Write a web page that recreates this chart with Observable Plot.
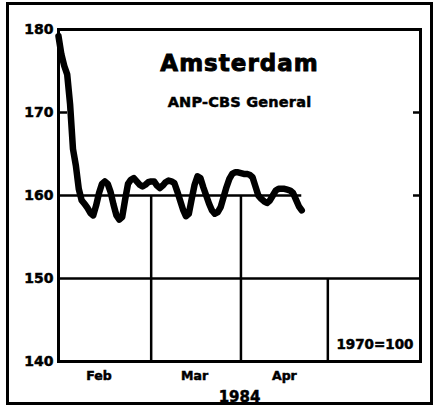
<!DOCTYPE html>
<html>
<head>
<meta charset="utf-8">
<script src="https://cdn.jsdelivr.net/npm/d3@7"></script>
<script src="https://cdn.jsdelivr.net/npm/@observablehq/plot@0.6"></script>
<style>
html, body { margin: 0; padding: 0; background: #fff; }
#wrap { position: relative; width: 438px; height: 406px; }
#border { position: absolute; left: 6px; top: 2px; width: 421px; height: 397px; border: 3px solid #000; pointer-events: none; }
</style>
</head>
<body>
<div id="wrap"></div>
<script>
// ---- data ----
const dates = [
  "1984-01-29","1984-01-30","1984-01-31","1984-02-01","1984-02-02","1984-02-03","1984-02-04","1984-02-05",
  "1984-02-06","1984-02-07","1984-02-08","1984-02-09","1984-02-10","1984-02-11","1984-02-12","1984-02-13",
  "1984-02-14","1984-02-15","1984-02-16","1984-02-17","1984-02-18","1984-02-19","1984-02-20","1984-02-21",
  "1984-02-22","1984-02-23","1984-02-24","1984-02-25","1984-02-26","1984-02-27","1984-02-28","1984-02-29",
  "1984-03-01","1984-03-02","1984-03-03","1984-03-04","1984-03-05","1984-03-06","1984-03-07","1984-03-08",
  "1984-03-09","1984-03-10","1984-03-11","1984-03-12","1984-03-13","1984-03-14","1984-03-15","1984-03-16",
  "1984-03-17","1984-03-18","1984-03-19","1984-03-20","1984-03-21","1984-03-22","1984-03-23","1984-03-24",
  "1984-03-25","1984-03-26","1984-03-27","1984-03-28","1984-03-29","1984-03-30","1984-03-31","1984-04-01",
  "1984-04-02","1984-04-03","1984-04-04","1984-04-05","1984-04-06","1984-04-07","1984-04-08","1984-04-09",
  "1984-04-10","1984-04-11","1984-04-12","1984-04-13","1984-04-14","1984-04-15","1984-04-16","1984-04-17",
  "1984-04-18","1984-04-19","1984-04-20","1984-04-21","1984-04-22"
];
const values = [
  179.2,177.0,175.6,174.6,171.0,165.6,163.6,160.8,
  159.4,159.0,158.5,157.9,157.6,158.8,160.3,161.4,
  161.7,161.4,160.4,158.9,157.6,157.1,157.4,159.5,
  161.4,161.9,162.1,161.7,161.3,161.1,161.3,161.6,
  161.7,161.7,161.2,160.9,161.2,161.6,161.8,161.7,
  161.5,160.5,159.4,158.3,157.5,157.8,159.6,161.3,
  162.3,162.1,161.0,160.0,159.0,158.2,157.8,158.0,
  158.6,159.8,161.0,162.0,162.6,162.8,162.8,162.7,
  162.6,162.6,162.5,162.2,161.1,160.0,159.6,159.3,
  159.1,159.4,160.0,160.6,160.8,160.8,160.8,160.7,
  160.6,160.3,159.5,158.7,158.2
];
const xDomain = ["1984-01-29", "1984-06-02"];
const yDomain = [140, 180];
const yTicks = [140, 150, 160, 170, 180];
const monthLabels = ["Feb", "Mar", "Apr"];
const monthLabelDates = ["1984-02-12", "1984-03-16", "1984-04-16"];
const monthBoundaries = ["1984-03-01", "1984-04-01", "1984-05-01"];
const boundaryTops = [160, 160, 150];
const fullGridLevels = [150];
const partialGridLevel = [160];
const leftTickLevels = [170];
const rightTickLevels = [160, 170];
const yearLabel = "1984";
const titleText = "Amsterdam";
const subtitleText = "ANP-CBS General";
const baseNote = "1970=100";

// ---- build ----
const series = dates.map((d, i) => ({date: new Date(d), value: values[i]}));
const firstDate = series[0].date;
const lastDate = series[series.length - 1].date;
const vGrid = monthBoundaries.map((d, i) => ({x: new Date(d), top: boundaryTops[i]}));
const hPartial = partialGridLevel.map(y => ({y, x1: firstDate, x2: lastDate}));
const labelMap = new Map(monthLabelDates.map((d, i) => [new Date(d).getTime(), monthLabels[i]]));

const chart = Plot.plot({
  width: 438,
  height: 406,
  marginLeft: 58,
  marginRight: 18,
  marginTop: 29,
  marginBottom: 45,
  style: {fontFamily: "DejaVu Sans", background: "#fff", color: "#000"},
  x: {type: "utc", domain: xDomain.map(d => new Date(d))},
  y: {domain: yDomain},
  marks: [
    Plot.ruleY(fullGridLevels, {stroke: "#000", strokeWidth: 2.5}),
    Plot.ruleY(hPartial, {y: "y", x1: "x1", x2: "x2", stroke: "#000", strokeWidth: 2.5}),
    Plot.ruleX(vGrid, {x: "x", y1: yDomain[0], y2: "top", stroke: "#000", strokeWidth: 2.5}),
    Plot.tickY(leftTickLevels, {insetRight: 353, stroke: "#000", strokeWidth: 2.5}),
    Plot.tickY(rightTickLevels, {insetLeft: 355, stroke: "#000", strokeWidth: 2.5}),
    Plot.line(series, {x: "date", y: "value", stroke: "#000", strokeWidth: 6.5, strokeLinejoin: "round", strokeLinecap: "round"}),
    Plot.frame({stroke: "#000", strokeWidth: 3}),
    Plot.axisY({ticks: yTicks, tickSize: 0, tickPadding: 5, fontSize: 14, fontWeight: "bold", label: null, tickFormat: d => String(d)}),
    Plot.axisX({ticks: monthLabelDates.map(d => new Date(d)), tickSize: 0, tickPadding: 10, fontSize: 12.5, fontWeight: "bold", label: null,
      tickFormat: d => labelMap.get(d.getTime()) ?? ""}),
    Plot.text([yearLabel], {frameAnchor: "bottom", lineAnchor: "bottom", dy: 40, fontSize: 15, fontWeight: "bold"}),
    Plot.text([titleText], {frameAnchor: "top", lineAnchor: "bottom", dy: 41, fontSize: 23, fontWeight: "bold"}),
    Plot.text([subtitleText], {frameAnchor: "top", lineAnchor: "bottom", dy: 77.5, fontSize: 14.5, fontWeight: "bold"}),
    Plot.text([baseNote], {frameAnchor: "bottom-right", textAnchor: "end", lineAnchor: "middle", dx: -7, dy: -17, fontSize: 13.5, fontWeight: "bold"})
  ]
});

const wrap = document.getElementById("wrap");
wrap.appendChild(chart);
const border = document.createElement("div");
border.id = "border";
wrap.appendChild(border);

// heavier, wider type as in the photocopied original
d3.select(chart).selectAll("text").each(function() {
  const t = this.textContent;
  this.style.stroke = "#000";
  this.style.strokeWidth = "0.5px";
  if (t === titleText) { this.setAttribute("letter-spacing", "1"); this.style.strokeWidth = "0.9px"; }
  if (t === subtitleText) this.setAttribute("letter-spacing", "0.2");
});
</script>
</body>
</html>
